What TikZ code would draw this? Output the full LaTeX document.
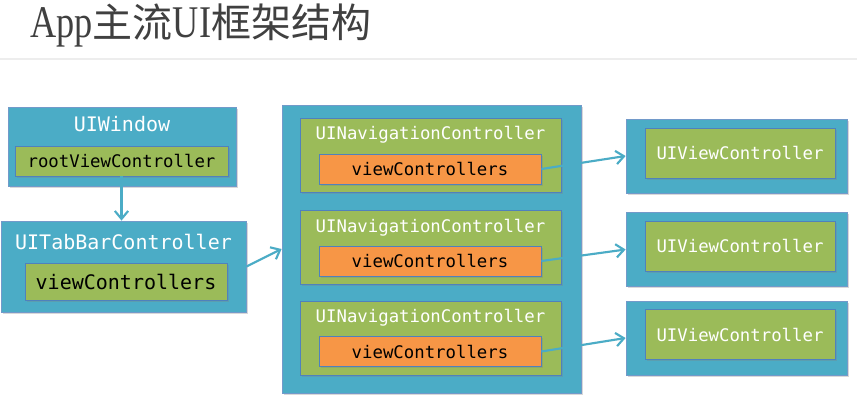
\documentclass[tikz,border=0pt]{standalone}
\usepackage{fontspec}
\setmonofont{DejaVu Sans Mono}
\newfontfamily\cjk{Noto Sans CJK SC}
\newfontfamily\titlelatin[FakeStretch=0.8]{Liberation Serif}
\usetikzlibrary{arrows.meta,shadows}

\definecolor{uiblue}{RGB}{75,172,198}
\definecolor{uigreen}{RGB}{155,187,89}
\definecolor{uiorange}{RGB}{247,150,70}
\definecolor{uiedge}{RGB}{79,129,189}
\definecolor{titlegray}{RGB}{64,64,64}

\tikzset{every picture/.style={line width=0.75pt}}
\tikzset{
  boxshadow/.style={drop shadow={shadow xshift=1.2pt,shadow yshift=-1.2pt,opacity=0.3}},
  bluebox/.style={draw=uiedge!80, fill=uiblue, line width=0.6pt, inner sep=0pt, boxshadow},
  greenbox/.style={draw=uiedge, fill=uigreen, line width=0.6pt, inner sep=0pt, boxshadow},
  orangebox/.style={draw=uiedge, fill=uiorange, line width=0.6pt, inner sep=0pt, boxshadow},
  bigtext/.style={font=\ttfamily\fontsize{15}{18}\selectfont},
  smalltext/.style={font=\ttfamily\fontsize{13}{16}\selectfont},
  headtext/.style={text=white, inner sep=0.75pt},
  link/.style={draw=uiblue, line width=1.6pt, -{Straight Barb[length=6pt,width=10pt]}}
}

\begin{document}
\begin{tikzpicture}[x=0.75pt,y=0.75pt,yscale=-1,xscale=1]
\useasboundingbox (0,0) rectangle (857,403);
\fill [white] (0,0) rectangle (857,403);

% Text Node
\node (title) [anchor=base west, inner sep=0pt, text=titlegray, font=\fontsize{30}{36}\selectfont] at (30,38)
  {{\titlelatin\fontsize{34}{40}\selectfont App}{\cjk 主流}{\titlelatin\fontsize{34}{40}\selectfont UI}{\cjk 框架结构}};
%Straight Lines
\draw [black!7, line width=0.8pt] (0,59) -- (857,59) ;

%Shape: Rectangle
\node (win) [bluebox, minimum width=171pt, minimum height=59.25pt] at (122,146.5) {};
% Text Node
\node (winTitle) [headtext, bigtext] at (122,124) {UIWindow};
%Shape: Rectangle
\node (rootVC) [greenbox, smalltext, minimum width=159.75pt, minimum height=22.5pt] at (121.5,161) {rootViewController};

%Shape: Rectangle
\node (tab) [bluebox, minimum width=183.75pt, minimum height=68.25pt] at (123.5,266.5) {};
% Text Node
\node (tabTitle) [headtext, bigtext] at (123.5,242) {UITabBarController};
%Shape: Rectangle
\node (tabVCs) [greenbox, bigtext, minimum width=151.5pt, minimum height=27.75pt] at (126,281.5) {viewControllers};

%Shape: Rectangle
\node (navStack) [bluebox, minimum width=224.25pt, minimum height=216pt] at (431.5,249) {};

%Shape: Rectangle
\node (nav1) [greenbox, minimum width=195.75pt, minimum height=55.5pt] at (430.5,155) {};
% Text Node
\node (nav1Title) [headtext, smalltext] at (430.5,135) {UINavigationController};
%Shape: Rectangle
\node (nav1VCs) [orangebox, smalltext, minimum width=166.5pt, minimum height=22.5pt] at (430,169) {viewControllers};

%Shape: Rectangle
\node (nav2) [greenbox, minimum width=195.75pt, minimum height=55.5pt] at (430.5,247) {};
% Text Node
\node (nav2Title) [headtext, smalltext] at (430.5,228) {UINavigationController};
%Shape: Rectangle
\node (nav2VCs) [orangebox, smalltext, minimum width=166.5pt, minimum height=22.5pt] at (430,261) {viewControllers};

%Shape: Rectangle
\node (nav3) [greenbox, minimum width=195.75pt, minimum height=55.5pt] at (430.5,338.5) {};
% Text Node
\node (nav3Title) [headtext, smalltext] at (430.5,318) {UINavigationController};
%Shape: Rectangle
\node (nav3VCs) [orangebox, smalltext, minimum width=166.5pt, minimum height=22.5pt] at (430,351.5) {viewControllers};

%Shape: Rectangle
\node (vc1) [bluebox, minimum width=165.75pt, minimum height=55.5pt] at (736.5,156) {};
\node (vc1Inner) [greenbox, smalltext, text=white, minimum width=142.5pt, minimum height=37.5pt] at (740,153) {UIViewController};
%Shape: Rectangle
\node (vc2) [bluebox, minimum width=165.75pt, minimum height=55.5pt] at (736.5,249.5) {};
\node (vc2Inner) [greenbox, smalltext, text=white, minimum width=142.5pt, minimum height=37.5pt] at (740,246) {UIViewController};
%Shape: Rectangle
\node (vc3) [bluebox, minimum width=165.75pt, minimum height=55.5pt] at (736.5,338) {};
\node (vc3Inner) [greenbox, smalltext, text=white, minimum width=142.5pt, minimum height=37.5pt] at (740,334.5) {UIViewController};

%Straight Lines
\draw [link] (rootVC.south) -- (rootVC.south |- tab.north) ;
%Straight Lines
\draw [link] (tab.east) -- (navStack.west) ;
%Straight Lines
\draw [link] (nav1VCs.east) -- (vc1.west) ;
%Straight Lines
\draw [link] (nav2VCs.east) -- (vc2.west) ;
%Straight Lines
\draw [link] (nav3VCs.east) -- (vc3.west) ;

\end{tikzpicture}
\end{document}
